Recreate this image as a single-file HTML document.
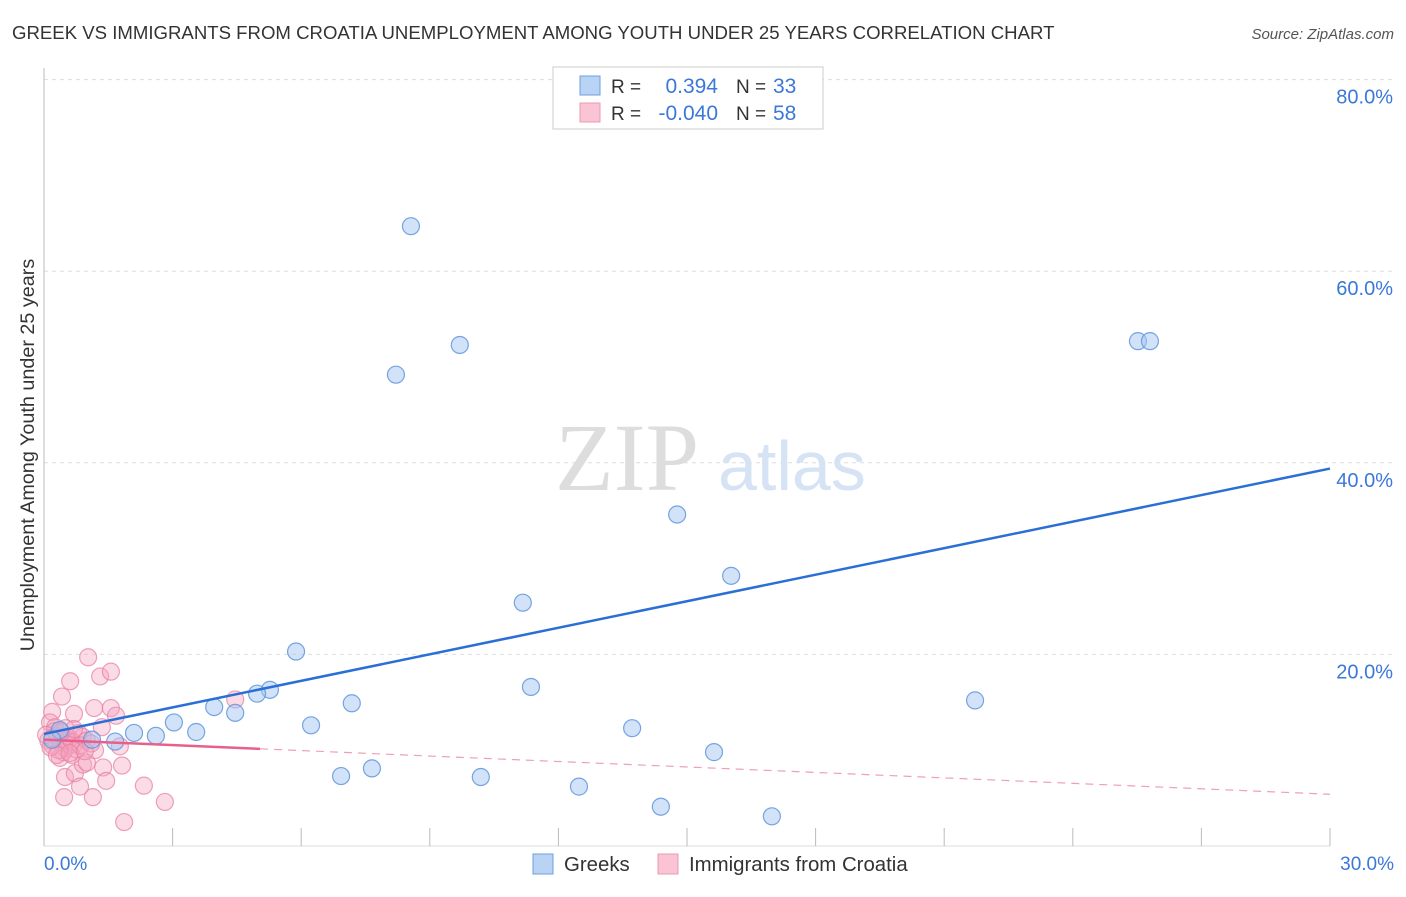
<!DOCTYPE html>
<html><head><meta charset="utf-8"><style>
body{margin:0;background:#fff;font-family:"Liberation Sans",sans-serif}
svg text{font-family:"Liberation Sans",sans-serif}
</style></head><body>
<svg width="1406" height="892" viewBox="0 0 1406 892">
<text x="12" y="39" font-size="18.6" fill="#333">GREEK VS IMMIGRANTS FROM CROATIA UNEMPLOYMENT AMONG YOUTH UNDER 25 YEARS CORRELATION CHART</text>
<text x="1394" y="39" font-size="15" fill="#555" font-style="italic" text-anchor="end">Source: ZipAtlas.com</text>
<g id="grid"></g>
<text x="555" y="490" font-size="96" fill="#ddd" font-family="Liberation Serif" style="font-family:'Liberation Serif',serif">ZIP</text>
<text x="718" y="490" font-size="70" fill="#d5e3f5">atlas</text>
<g id="marks"></g>
<text transform="translate(34,455) rotate(-90)" font-size="19.8" fill="#333" text-anchor="middle">Unemployment Among Youth under 25 years</text>
<text x="44" y="870" font-size="19" fill="#3b78d8">0.0%</text>
<text x="1394" y="870" font-size="19" fill="#3b78d8" text-anchor="end">30.0%</text>
<g>
<rect x="553" y="67" width="270" height="62" fill="#fff" stroke="#ccc"/>
<rect x="580" y="76" width="20" height="19" fill="#b9d3f5" stroke="#6a9fe0"/>
<rect x="580" y="103" width="20" height="19" fill="#fac4d4" stroke="#ea9ab4"/>
<text x="611" y="93" font-size="19" fill="#333">R =</text>
<text x="718" y="93" font-size="21" fill="#3b78d8" text-anchor="end">0.394</text>
<text x="736" y="93" font-size="19" fill="#333">N =</text>
<text x="773" y="93" font-size="21" fill="#3b78d8">33</text>
<text x="611" y="120" font-size="19" fill="#333">R =</text>
<text x="718" y="120" font-size="21" fill="#3b78d8" text-anchor="end">-0.040</text>
<text x="736" y="120" font-size="19" fill="#333">N =</text>
<text x="773" y="120" font-size="21" fill="#3b78d8">58</text>
</g>
<g>
<rect x="533" y="854" width="20" height="20" fill="#b9d3f5" stroke="#6a9fe0"/>
<text x="564" y="871" font-size="20.4" fill="#333">Greeks</text>
<rect x="658" y="854" width="20" height="20" fill="#fac4d4" stroke="#ea9ab4"/>
<text x="689" y="871" font-size="20.4" fill="#333">Immigrants from Croatia</text>
</g>
</svg>
<script>
const yTicks=[20,40,60,80];
const yTickLabels=["20.0%","40.0%","60.0%","80.0%"];
const xTicks=[0,3,6,9,12,15,18,21,24,27,30];
const greekX=[8.56,9.70,8.21,25.52,25.80,14.77,16.03,11.17,5.88,11.36,21.72,7.18,5.27,4.97,3.97,4.46,3.03,6.23,3.55,2.10,2.61,1.66,13.72,15.63,1.12,0.37,6.93,7.65,10.19,12.48,14.39,16.98,0.19];
const greekY=[64.7,52.3,49.2,52.7,52.7,34.6,28.2,25.4,20.3,16.6,15.2,14.9,16.3,15.9,14.5,13.9,12.9,12.6,11.9,11.8,11.5,10.9,12.3,9.8,11.1,12.1,7.3,8.1,7.2,6.2,4.1,3.1,11.1];
const croX=[1.03,1.31,1.56,0.61,0.42,0.19,1.17,1.56,0.70,1.68,4.46,1.35,0.14,0.26,1.38,1.82,0.49,0.72,0.91,1.00,0.84,1.45,0.47,1.14,2.33,2.82,1.87,1.77,0.65,0.37,1.19,0.1,0.2,0.3,0.4,0.5,0.6,0.7,0.8,0.25,0.45,0.55,0.35,0.15,0.65,0.75,0.9,0.05,0.3,0.5,0.85,0.2,0.4,0.6,1.0,1.1,0.7,0.95];
const croY=[19.7,17.7,18.2,17.2,15.6,14.0,14.4,14.4,13.8,13.6,15.3,12.4,12.9,12.4,8.2,8.4,7.2,7.6,8.5,8.7,6.2,6.8,5.1,5.1,6.3,4.6,2.5,10.4,9.5,9.2,10.0,11.0,10.5,11.5,10.8,10.2,11.2,10.6,11.8,12.0,9.8,11.0,10.0,10.3,10.9,10.1,11.4,11.6,9.5,12.3,10.5,11.3,11.9,9.7,11.0,10.7,12.2,9.9];
const greekTrend=[11.7,39.4];
const croTrend=[11.1,5.4];
const croSolidEnd=5.04;
const X=v=>44+v*(1330-44)/30;
const Y=v=>846-v*9.58;
const NS="http://www.w3.org/2000/svg";
function mk(t,a,p){const e=document.createElementNS(NS,t);for(const k in a)e.setAttribute(k,a[k]);p.appendChild(e);return e;}
const g=document.getElementById('grid');
yTicks.forEach((t,i)=>{
 const l=mk('line',{x1:44,x2:1395,y1:Y(t),y2:Y(t),stroke:'#ddd','stroke-dasharray':'4,4'},g);
 
 
 const tx=mk('text',{x:1393,y:Y(t)+24,'font-size':20,fill:'#3b78d8','text-anchor':'end'},g);
 tx.textContent=yTickLabels[i];
 
 
});
const ax=mk('line',{x1:44,x2:44,y1:68,y2:846,stroke:'#bbb'},g);


const bx=mk('line',{x1:44,x2:1330,y1:846,y2:846,stroke:'#ddd'},g);


xTicks.forEach(t=>{
 const l=mk('line',{x1:X(t),x2:X(t),y1:828,y2:846,stroke:'#bbb'},g);
 
 
});
const m=document.getElementById('marks');
croX.forEach((x,i)=>{
 const c=mk('circle',{cx:X(x),cy:Y(croY[i]),r:8.5,fill:'rgba(245,165,192,0.4)',stroke:'rgba(232,130,165,0.75)','stroke-width':1.2},m);
 
 
});
greekX.forEach((x,i)=>{
 const c=mk('circle',{cx:X(x),cy:Y(greekY[i]),r:8.5,fill:'rgba(165,198,242,0.5)',stroke:'rgba(95,150,220,0.85)','stroke-width':1.2},m);
 
 
});
const bl=mk('line',{x1:X(0),y1:Y(greekTrend[0]),x2:X(30),y2:Y(greekTrend[1]),stroke:'#2a6fd6','stroke-width':2.5},m);


const cy=v=>croTrend[0]+(croTrend[1]-croTrend[0])*v/30;
const pl=mk('line',{x1:X(0),y1:Y(cy(0)),x2:X(croSolidEnd),y2:Y(cy(croSolidEnd)),stroke:'#e8608a','stroke-width':2.5},m);


const pd=mk('line',{x1:X(croSolidEnd),y1:Y(cy(croSolidEnd)),x2:X(30),y2:Y(cy(30)),stroke:'#eea0b8','stroke-width':1.2,'stroke-dasharray':'8,6'},m);


</script>
</body></html>
